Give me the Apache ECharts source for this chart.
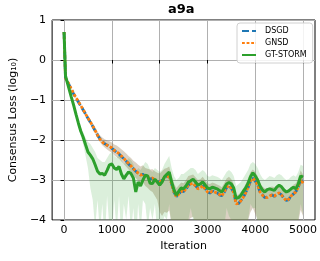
<!DOCTYPE html>
<html>
<head>
<meta charset="utf-8">
<script src="https://cdn.jsdelivr.net/npm/echarts@6/dist/echarts.min.js"></script>
<style>
  html, body { margin: 0; padding: 0; background: #fff; }
  #chart { width: 320px; height: 261px; }
</style>
</head>
<body>
<div id="chart"></div>
<script>
// iteration at which each value was read
const iters = [
  0, 30, 100, 150, 200, 250, 300, 350, 400, 450,
  500, 550, 600, 650, 700, 750, 800, 850, 900, 950,
  1000, 1050, 1100, 1150, 1200, 1250, 1300, 1350, 1400, 1450,
  1500, 1550, 1600, 1650, 1700, 1750, 1800, 1850, 1900, 1950,
  2000, 2050, 2100, 2150, 2200, 2250, 2300, 2350, 2400, 2450,
  2500, 2550, 2600, 2650, 2700, 2750, 2800, 2850, 2900, 2950,
  3000, 3050, 3100, 3150, 3200, 3250, 3300, 3350, 3400, 3450,
  3500, 3550, 3600, 3650, 3700, 3750, 3800, 3850, 3900, 3950,
  4000, 4050, 4100, 4150, 4200, 4250, 4300, 4350, 4400, 4450,
  4500, 4550, 4600, 4650, 4700, 4750, 4800, 4850, 4900, 4950,
  5000
]

const dsgd = [
  0.70, -0.45, -0.61, -0.73, -0.85, -0.95, -1.05, -1.15, -1.25, -1.35,
  -1.46, -1.56, -1.66, -1.77, -1.88, -1.97, -2.04, -2.09, -2.13, -2.17,
  -2.21, -2.26, -2.31, -2.35, -2.41, -2.47, -2.53, -2.60, -2.66, -2.72,
  -2.78, -2.83, -2.87, -2.86, -2.91, -2.95, -2.97, -2.96, -3.01, -3.03,
  -3.05, -3.01, -2.95, -2.91, -2.89, -3.09, -3.31, -3.41, -3.36, -3.27,
  -3.29, -3.23, -3.13, -3.09, -3.09, -3.14, -3.21, -3.21, -3.15, -3.21,
  -3.29, -3.33, -3.27, -3.31, -3.32, -3.37, -3.39, -3.31, -3.19, -3.13,
  -3.21, -3.31, -3.59, -3.59, -3.51, -3.44, -3.31, -3.19, -3.03, -2.95,
  -3.03, -3.11, -3.31, -3.37, -3.44, -3.43, -3.41, -3.37, -3.41, -3.35,
  -3.33, -3.37, -3.46, -3.51, -3.49, -3.39, -3.35, -3.29, -3.19, -2.97,
  -3.07
]

const gnsd = [
  0.70, -0.45, -0.60, -0.72, -0.84, -0.94, -1.04, -1.14, -1.24, -1.35,
  -1.45, -1.55, -1.65, -1.76, -1.88, -1.98, -2.05, -2.10, -2.13, -2.16,
  -2.20, -2.26, -2.30, -2.34, -2.40, -2.46, -2.53, -2.59, -2.65, -2.72,
  -2.77, -2.83, -2.88, -2.85, -2.92, -2.94, -2.96, -2.95, -3.00, -3.04,
  -3.06, -3.00, -2.94, -2.92, -2.88, -3.10, -3.30, -3.42, -3.35, -3.28,
  -3.30, -3.22, -3.12, -3.10, -3.08, -3.15, -3.22, -3.20, -3.14, -3.22,
  -3.30, -3.32, -3.28, -3.30, -3.33, -3.36, -3.40, -3.30, -3.18, -3.14,
  -3.20, -3.32, -3.60, -3.58, -3.52, -3.43, -3.32, -3.18, -3.02, -2.96,
  -3.02, -3.12, -3.30, -3.38, -3.43, -3.44, -3.40, -3.38, -3.40, -3.36,
  -3.32, -3.38, -3.45, -3.52, -3.48, -3.40, -3.34, -3.30, -3.18, -2.98,
  -3.08
]

const gtstorm = [
  0.70, -0.40, -0.70, -0.92, -1.13, -1.36, -1.58, -1.78, -1.93, -2.12,
  -2.30, -2.38, -2.47, -2.62, -2.78, -2.85, -2.84, -2.88, -2.76, -2.62,
  -2.60, -2.70, -2.74, -2.66, -2.85, -2.97, -2.88, -2.80, -2.84, -2.95,
  -3.30, -3.05, -3.15, -3.00, -2.88, -2.90, -3.08, -3.09, -2.98, -3.05,
  -3.13, -3.05, -2.92, -2.86, -2.80, -3.05, -3.25, -3.38, -3.28, -3.20,
  -3.22, -3.15, -3.05, -3.02, -2.98, -3.05, -3.13, -3.10, -3.05, -3.12,
  -3.20, -3.22, -3.18, -3.20, -3.22, -3.26, -3.30, -3.20, -3.10, -3.06,
  -3.10, -3.20, -3.46, -3.44, -3.38, -3.28, -3.20, -3.08, -2.92, -2.82,
  -2.90, -3.00, -3.15, -3.25, -3.30, -3.24, -3.22, -3.24, -3.26, -3.18,
  -3.13, -3.17, -3.25, -3.30, -3.27, -3.22, -3.18, -3.22, -3.10, -2.90,
  -2.93
]

// spread of DSGD / GNSD runs (low / high)
const sgdLow = [
  0.70, -0.45, -0.61, -0.74, -0.87, -0.97, -1.07, -1.18, -1.28, -1.39,
  -1.48, -1.59, -1.70, -1.82, -1.95, -2.05, -2.13, -2.19, -2.24, -2.28,
  -2.32, -2.38, -2.43, -2.47, -2.54, -2.60, -2.67, -2.74, -2.80, -2.88,
  -2.95, -3.02, -3.08, -3.06, -3.15, -3.20, -3.26, -3.30, -3.40, -3.50,
  -3.80, -3.90, -3.80, -3.82, -3.76, -4.10, -4.40, -4.60, -4.50, -4.30,
  -4.40, -4.20, -4.00, -3.95, -3.92, -4.10, -4.20, -4.15, -4.05, -4.20,
  -4.35, -4.40, -4.30, -4.35, -4.40, -4.45, -4.50, -4.30, -4.10, -4.00,
  -4.10, -4.30, -4.80, -4.70, -4.60, -4.40, -4.20, -4.00, -3.80, -3.70,
  -3.85, -4.00, -4.30, -4.40, -4.50, -4.50, -4.40, -4.35, -4.40, -4.30,
  -4.25, -4.35, -4.45, -4.55, -4.50, -4.40, -4.30, -4.25, -4.05, -3.75,
  -3.90
]
const sgdHigh = [
  0.70, -0.45, -0.59, -0.71, -0.82, -0.92, -1.02, -1.11, -1.21, -1.31,
  -1.40, -1.49, -1.58, -1.68, -1.79, -1.88, -1.94, -1.98, -2.01, -2.03,
  -2.06, -2.11, -2.14, -2.18, -2.23, -2.28, -2.34, -2.40, -2.45, -2.52,
  -2.56, -2.62, -2.66, -2.63, -2.70, -2.72, -2.74, -2.73, -2.78, -2.82,
  -2.84, -2.78, -2.72, -2.70, -2.66, -2.88, -3.08, -3.20, -3.13, -3.06,
  -3.08, -3.00, -2.90, -2.88, -2.86, -2.93, -3.00, -2.98, -2.92, -3.00,
  -3.08, -3.10, -3.06, -3.08, -3.11, -3.14, -3.18, -3.08, -2.96, -2.92,
  -2.98, -3.10, -3.38, -3.36, -3.30, -3.21, -3.10, -2.96, -2.80, -2.74,
  -2.80, -2.90, -3.08, -3.16, -3.21, -3.22, -3.18, -3.16, -3.18, -3.14,
  -3.10, -3.16, -3.23, -3.30, -3.26, -3.18, -3.12, -3.08, -2.96, -2.76,
  -2.86
]

// spread of GT-STORM runs
const stormLow = [
  0.70, -0.40, -0.72, -0.95, -1.17, -1.42, -1.66, -1.90, -2.10, -2.40,
  -2.70, -3.20, -3.50, -4.20, -3.50, -4.30, -3.60, -4.50, -3.40, -4.20,
  -4.40, -3.50, -4.30, -3.40, -4.50, -3.60, -4.00, -3.40, -4.30, -3.70,
  -4.60, -3.60, -4.30, -3.50, -3.60, -4.20, -3.70, -4.00, -3.60, -4.30,
  -4.40, -4.10, -3.90, -4.00, -3.60, -4.20, -4.50, -4.60, -4.30, -4.20,
  -4.30, -4.10, -4.00, -3.70, -4.00, -4.20, -4.30, -4.10, -4.00, -4.20,
  -4.40, -4.30, -4.20, -4.30, -4.40, -4.30, -4.50, -4.20, -3.70, -3.90,
  -4.00, -4.30, -4.70, -4.60, -4.40, -4.20, -4.10, -4.00, -3.60, -3.70,
  -3.70, -4.10, -4.30, -4.50, -4.40, -4.30, -4.20, -4.40, -4.30, -4.10,
  -4.00, -4.20, -4.40, -4.50, -4.30, -4.20, -4.10, -4.30, -4.00, -3.60,
  -3.85
]
const stormHigh = [
  0.70, -0.40, -0.68, -0.89, -1.09, -1.30, -1.50, -1.68, -1.80, -1.95,
  -2.05, -2.10, -2.20, -2.30, -2.45, -2.50, -2.55, -2.55, -2.45, -2.35,
  -2.30, -2.40, -2.45, -2.35, -2.50, -2.60, -2.55, -2.45, -2.50, -2.60,
  -2.80, -2.70, -2.75, -2.65, -2.55, -2.60, -2.75, -2.80, -2.70, -2.75,
  -2.80, -2.75, -2.60, -2.50, -2.40, -2.70, -2.90, -3.00, -2.95, -2.85,
  -2.85, -2.80, -2.75, -2.70, -2.70, -2.75, -2.85, -2.80, -2.75, -2.80,
  -2.90, -2.92, -2.88, -2.90, -2.92, -2.95, -3.00, -2.90, -2.80, -2.75,
  -2.80, -2.90, -3.15, -3.10, -3.05, -2.95, -2.85, -2.75, -2.60, -2.55,
  -2.60, -2.70, -2.85, -2.95, -3.00, -2.95, -2.90, -2.92, -2.95, -2.88,
  -2.85, -2.88, -2.95, -3.00, -2.98, -2.92, -2.88, -2.92, -2.80, -2.62,
  -2.65
]

const xTicks = [0, 1000, 2000, 3000, 4000, 5000]

const pair = (ys) => iters.map((x, i) => [x, ys[i]])

// 阴影带：用 custom 画一个多边形，坐标走 api.coord
const band = (low, high, color) => ({
  type: 'custom', silent: true, z: 1,
  data: iters.map((x, i) => [x, low[i], high[i]]),
  encode: { x: 0, y: [1, 2] },
  renderItem: (params, api) => {
    if (params.dataIndex !== 0) return null
    const pts = []
    iters.forEach((x, i) => pts.push(api.coord([x, high[i]])))
    for (let i = iters.length - 1; i >= 0; i--) pts.push(api.coord([iters[i], low[i]]))
    const cs = params.coordSys
    return {
      type: 'polygon',
      shape: { points: pts },
      style: { fill: color },
      clipPath: { type: 'rect', shape: { x: cs.x, y: cs.y, width: cs.width, height: cs.height } }
    }
  }
})

const chart = echarts.init(document.getElementById('chart'))

chart.setOption({
  animation: false,
  textStyle: { fontFamily: 'DejaVu Sans' },
  title: {
    text: 'a9a', left: 168, top: 3, padding: 0,
    textStyle: { fontSize: 13, fontWeight: 'bold', color: '#000', fontFamily: 'DejaVu Sans' }
  },
  legend: {
    data: ['DSGD', 'GNSD', 'GT-STORM'],
    orient: 'vertical', left: 237, top: 23,
    itemWidth: 14, itemHeight: 8, itemGap: 4,
    padding: [4, 6, 4, 4],
    backgroundColor: 'rgba(255,255,255,0.85)',
    borderColor: '#d0d0d0', borderWidth: 1, borderRadius: 3,
    itemStyle: { opacity: 0 },
    textStyle: { fontSize: 8, color: '#000', padding: [0, 0, 0, 4] }
  },
  grid: {
    left: 48, right: 5, top: 20, bottom: 41,
    show: true, borderColor: '#000', borderWidth: 1, backgroundColor: 'transparent'
  },
  xAxis: {
    type: 'value', min: -250, max: 5250,
    name: 'Iteration', nameLocation: 'middle', nameGap: 19,
    nameTextStyle: { fontSize: 11, color: '#000' },
    axisLine: { show: false },
    axisTick: { show: true, length: 3.5, lineStyle: { color: '#000' }, customValues: xTicks },
    axisLabel: { fontSize: 11, color: '#000', margin: 5, customValues: xTicks, formatter: (v) => String(v) },
    splitLine: { show: true, lineStyle: { color: '#b0b0b0', width: 1 } }
  },
  yAxis: {
    type: 'value', min: -4, max: 1, interval: 1,
    name: 'Consensus Loss (log\u2081\u2080)', nameLocation: 'middle', nameGap: 29,
    nameTextStyle: { fontSize: 11, color: '#000' },
    axisLine: { show: false },
    axisTick: { show: true, length: 3.5, lineStyle: { color: '#000' } },
    axisLabel: { fontSize: 11, color: '#000', margin: 6, formatter: (v) => String(v).replace('-', '\u2212') },
    splitLine: { show: true, lineStyle: { color: '#b0b0b0', width: 1 } }
  },
  series: [
    band(sgdLow, sgdHigh, 'rgba(152,124,84,0.35)'),
    band(stormLow, stormHigh, 'rgba(44,160,44,0.17)'),
    {
      name: 'DSGD', type: 'line', symbol: 'none', z: 3,
      color: '#1f77b4',
      lineStyle: { width: 2.8, type: [7, 3], color: '#1f77b4' },
      data: pair(dsgd)
    },
    {
      name: 'GNSD', type: 'line', symbol: 'none', z: 4,
      color: '#ff7f0e',
      lineStyle: { width: 2.8, type: [2.8, 1.8], color: '#ff7f0e' },
      data: pair(gnsd)
    },
    {
      name: 'GT-STORM', type: 'line', symbol: 'none', z: 5,
      color: '#2ca02c',
      lineStyle: { width: 3, color: '#2ca02c' },
      data: pair(gtstorm)
    }
  ]
})
</script>
</body>
</html>
